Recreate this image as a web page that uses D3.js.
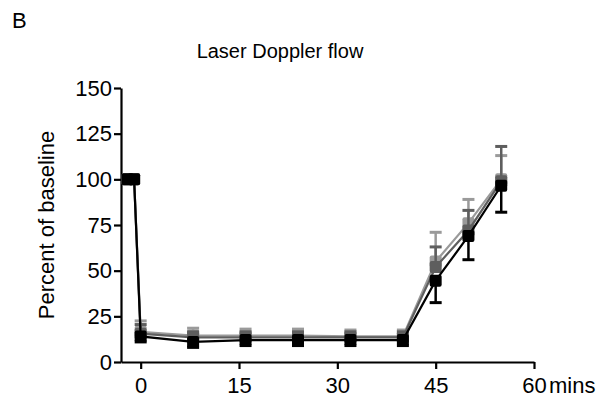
<!DOCTYPE html>
<html>
<head>
<meta charset="utf-8">
<script src="https://cdn.jsdelivr.net/npm/d3@7"></script>
<style>
  body { margin: 0; background: #fff; }
  text { font-family: "Liberation Sans", Arial, sans-serif; fill: #000; }
</style>
</head>
<body>
<div id="chart"></div>
<script>
// time points (mins) and series values (percent of baseline)
const times = [-2, -1, 0, 8, 16, 24, 32, 40, 45, 50, 55];
const lightVals = [100, 100, 16.5, 14.5, 14.5, 14.5, 14, 14, 55, 76, 100];
const lightErr  = [0, 0, 6, 4, 3.5, 3.5, 3.5, 3.5, 16, 13, 13];
const darkVals  = [100, 100, 15.5, 13.5, 13.5, 13.5, 13.5, 13.5, 52, 72, 99];
const darkErr   = [0, 0, 5, 3, 3, 3, 3, 3, 11, 11, 19];
const blackVals = [100, 100, 14, 11, 12, 12, 12, 12, 44.5, 69, 96.5];
const blackErr  = [0, 0, 3, 3, 3, 3, 3, 3, 12, 13, 14.5];
const yTicks = [0, 25, 50, 75, 100, 125, 150];
const xTicks = [0, 15, 30, 45, 60];

const W = 602, H = 398;
const svg = d3.select('#chart').append('svg').attr('width', W).attr('height', H);

const x = d3.scaleLinear().domain([-3, 60]).range([121, 534]);
const y = d3.scaleLinear().domain([0, 150]).range([362, 88]);

// axes
const gy = svg.append('g').attr('transform', `translate(${x(-3)},0)`)
  .call(d3.axisLeft(y).tickValues(yTicks).tickSize(7).tickPadding(2).tickSizeOuter(0));
const gx = svg.append('g').attr('transform', `translate(0,${y(0)})`)
  .call(d3.axisBottom(x).tickValues(xTicks).tickSize(7).tickPadding(8).tickSizeOuter(0));
[gx, gy].forEach(g => {
  g.select('.domain').attr('stroke', '#000').attr('stroke-width', 2.2);
  g.selectAll('.tick line').attr('stroke', '#000').attr('stroke-width', 2.2);
  g.selectAll('.tick text').style('font-size', '22px').attr('fill', '#000');
});
gx.selectAll('.tick text').attr('dy', '0.72em');

svg.append('text').attr('x', x(60) + 15).attr('y', 393)
  .style('font-size', '22px').text('mins');

svg.append('text').attr('x', 12).attr('y', 28).style('font-size', '22px').text('B');
svg.append('text').attr('x', 280).attr('y', 58).attr('text-anchor', 'middle')
  .style('font-size', '20px').text('Laser Doppler flow');
svg.append('text')
  .attr('transform', `translate(54,${(y(0) + y(150)) / 2}) rotate(-90)`)
  .attr('text-anchor', 'middle').style('font-size', '22px').text('Percent of baseline');

const series = [
  { vals: lightVals, err: lightErr, color: '#9a9a9a', dir: 1 },
  { vals: darkVals, err: darkErr, color: '#5e5e5e', dir: 1 },
  { vals: blackVals, err: blackErr, color: '#000000', dir: -1 }
];

const line = d3.line().x(d => x(d.t)).y(d => y(d.v));
const ms = 12;

series.forEach(s => {
  const pts = times.map((t, i) => ({ t, v: s.vals[i], e: s.err[i] }));
  const g = svg.append('g');
  // error bars
  const eb = g.selectAll('.eb').data(pts.filter(d => d.e > 0)).enter().append('g');
  eb.append('line')
    .attr('x1', d => x(d.t)).attr('x2', d => x(d.t))
    .attr('y1', d => y(d.v)).attr('y2', d => y(d.v + s.dir * d.e))
    .attr('stroke', s.color).attr('stroke-width', 2.5);
  eb.append('line')
    .attr('x1', d => x(d.t) - 6).attr('x2', d => x(d.t) + 6)
    .attr('y1', d => y(d.v + s.dir * d.e)).attr('y2', d => y(d.v + s.dir * d.e))
    .attr('stroke', s.color).attr('stroke-width', 3);
  g.append('path').datum(pts).attr('d', line)
    .attr('fill', 'none').attr('stroke', s.color).attr('stroke-width', 2.2);
  g.selectAll('rect').data(pts).enter().append('rect')
    .attr('x', d => x(d.t) - ms / 2).attr('y', d => y(d.v) - ms / 2)
    .attr('width', ms).attr('height', ms).attr('rx', 2)
    .attr('fill', s.color);
});
</script>
</body>
</html>
